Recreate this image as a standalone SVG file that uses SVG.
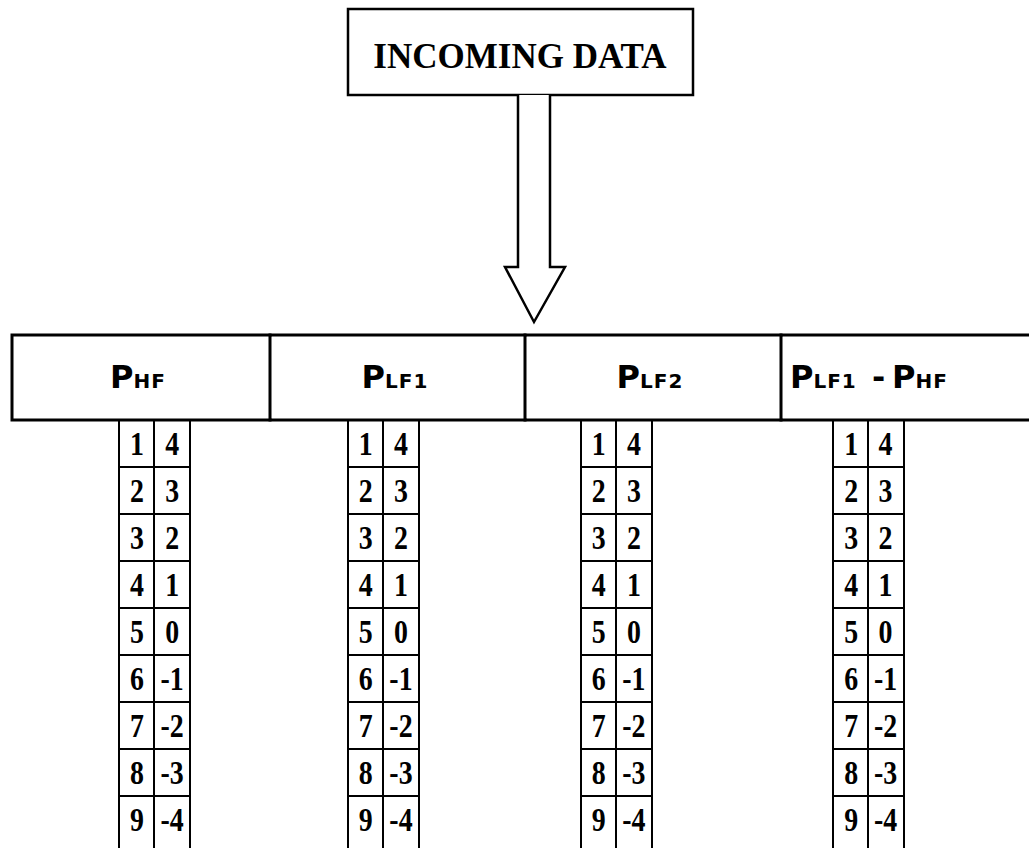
<svg xmlns="http://www.w3.org/2000/svg" xmlns:xlink="http://www.w3.org/1999/xlink" width="1029" height="850" viewBox="0 0 1029 850">
<style>
.box{fill:#fff;stroke:#000;stroke-width:2.5}
.hdr{stroke:#000;stroke-width:3;fill:none;stroke-linecap:square}
.grid{stroke:#000;stroke-width:2;fill:none}
.t{font-family:"Liberation Serif","Times New Roman",serif;font-weight:bold;font-size:35px;fill:#000;text-anchor:middle}
.p{font-family:"DejaVu Sans","Liberation Sans",sans-serif;font-weight:bold;fill:#000;text-anchor:middle}
.pl{font-family:"DejaVu Sans","Liberation Sans",sans-serif;font-weight:bold;fill:#000}
.ps{font-size:32px}
.ss{font-size:20px;letter-spacing:1px}
.d{font-family:"Liberation Serif","Times New Roman",serif;font-weight:bold;font-size:34px;fill:#000;text-anchor:middle}
.arrow{fill:#fff;stroke:#000;stroke-width:2.5;stroke-linejoin:miter}
</style>
<defs>
<g id="gridlines" class="grid">
<path d="M0,420V848M35,420V848M71,420V848"/>
<path d="M0,467H71M0,514H71M0,561H71M0,608H71M0,655H71M0,702H71M0,749H71M0,796H71"/>
</g>
</defs>
<rect width="1029" height="850" fill="#fff"/>

<g id="incoming-data">
<rect class="box" x="348" y="9" width="345" height="86"/>
<text class="t" x="520" y="68">INCOMING DATA</text>
</g>

<g id="connectors">
<path class="arrow" d="M518,95V267H505L534,322L565,267H550V95"/>
</g>

<g id="header-phf">
<path class="hdr" d="M12,335H270M12,420H270M12,335V420"/>
<text class="p" x="138" y="388"><tspan class="ps">P</tspan><tspan class="ss">HF</tspan></text>
</g>
<g id="header-plf1">
<path class="hdr" d="M270,335H525M270,420H525M270,335V420"/>
<text class="p" x="395" y="388"><tspan class="ps">P</tspan><tspan class="ss">LF1</tspan></text>
</g>
<g id="header-plf2">
<path class="hdr" d="M525,335H781M525,420H781M525,335V420"/>
<text class="p" x="650" y="388"><tspan class="ps">P</tspan><tspan class="ss">LF2</tspan></text>
</g>
<g id="header-diff">
<path class="hdr" d="M781,335H1029M781,420H1029M781,335V420"/>
<text class="pl" x="790" y="388"><tspan class="ps">P</tspan><tspan class="ss">LF1</tspan><tspan class="ps" x="872">-</tspan><tspan class="ps" x="892">P</tspan><tspan class="ss">HF</tspan></text>
</g>

<g id="table-phf">
<use xlink:href="#gridlines" href="#gridlines" x="119"/>
<g class="d" transform="scale(0.82,1)">
<text x="167" y="455">1</text><text x="210" y="455">4</text>
<text x="167" y="502">2</text><text x="210" y="502">3</text>
<text x="167" y="549">3</text><text x="210" y="549">2</text>
<text x="167" y="596">4</text><text x="210" y="596">1</text>
<text x="167" y="643">5</text><text x="210" y="643">0</text>
<text x="167" y="690">6</text><text x="210" y="690">-1</text>
<text x="167" y="737">7</text><text x="210" y="737">-2</text>
<text x="167" y="784">8</text><text x="210" y="784">-3</text>
<text x="167" y="831">9</text><text x="210" y="831">-4</text>
</g>
</g>

<g id="table-plf1">
<use xlink:href="#gridlines" href="#gridlines" x="348"/>
<g class="d" transform="scale(0.82,1)">
<text x="446" y="455">1</text><text x="489" y="455">4</text>
<text x="446" y="502">2</text><text x="489" y="502">3</text>
<text x="446" y="549">3</text><text x="489" y="549">2</text>
<text x="446" y="596">4</text><text x="489" y="596">1</text>
<text x="446" y="643">5</text><text x="489" y="643">0</text>
<text x="446" y="690">6</text><text x="489" y="690">-1</text>
<text x="446" y="737">7</text><text x="489" y="737">-2</text>
<text x="446" y="784">8</text><text x="489" y="784">-3</text>
<text x="446" y="831">9</text><text x="489" y="831">-4</text>
</g>
</g>

<g id="table-plf2">
<use xlink:href="#gridlines" href="#gridlines" x="581"/>
<g class="d" transform="scale(0.82,1)">
<text x="730" y="455">1</text><text x="773" y="455">4</text>
<text x="730" y="502">2</text><text x="773" y="502">3</text>
<text x="730" y="549">3</text><text x="773" y="549">2</text>
<text x="730" y="596">4</text><text x="773" y="596">1</text>
<text x="730" y="643">5</text><text x="773" y="643">0</text>
<text x="730" y="690">6</text><text x="773" y="690">-1</text>
<text x="730" y="737">7</text><text x="773" y="737">-2</text>
<text x="730" y="784">8</text><text x="773" y="784">-3</text>
<text x="730" y="831">9</text><text x="773" y="831">-4</text>
</g>
</g>

<g id="table-diff">
<use xlink:href="#gridlines" href="#gridlines" x="833"/>
<g class="d" transform="scale(0.82,1)">
<text x="1038" y="455">1</text><text x="1080" y="455">4</text>
<text x="1038" y="502">2</text><text x="1080" y="502">3</text>
<text x="1038" y="549">3</text><text x="1080" y="549">2</text>
<text x="1038" y="596">4</text><text x="1080" y="596">1</text>
<text x="1038" y="643">5</text><text x="1080" y="643">0</text>
<text x="1038" y="690">6</text><text x="1080" y="690">-1</text>
<text x="1038" y="737">7</text><text x="1080" y="737">-2</text>
<text x="1038" y="784">8</text><text x="1080" y="784">-3</text>
<text x="1038" y="831">9</text><text x="1080" y="831">-4</text>
</g>
</g>
</svg>
